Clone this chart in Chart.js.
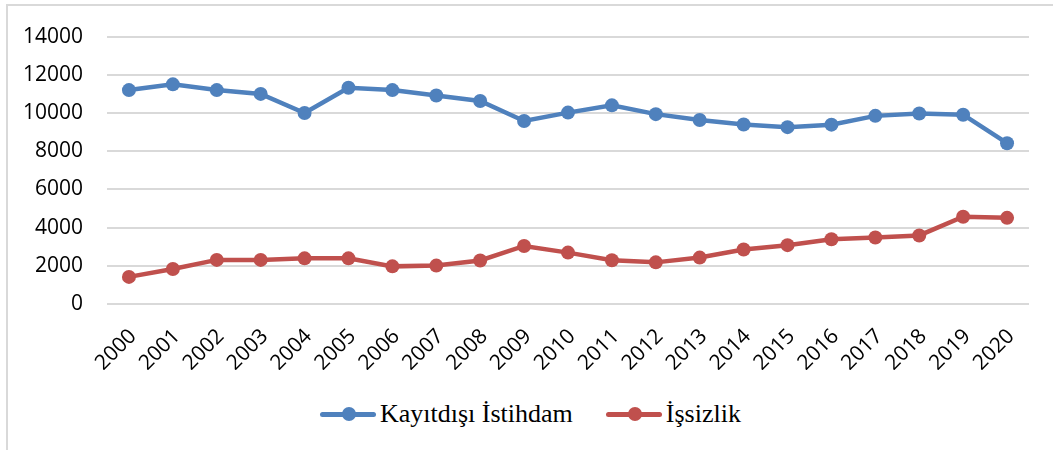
<!doctype html>
<html lang="tr">

<head>
    <meta charset="utf-8">
    <title>Kayıtdışı İstihdam ve İşsizlik</title>
    <script src="https://cdn.jsdelivr.net/npm/chart.js"></script>
    <style>
        body {
            margin: 0;
            background: #fff;
            width: 1053px;
            height: 450px;
            overflow: hidden;
            position: relative;
        }

        .frame {
            position: absolute;
            left: 6px;
            top: 4px;
            width: 1100px;
            height: 500px;
            border-left: 2px solid #d9d9d9;
            border-top: 2px solid #d9d9d9;
        }

        .chart-box {
            position: absolute;
            left: 0;
            top: 0;
            width: 1053px;
            height: 370px;
        }

        .legend {
            position: absolute;
            top: 399px;
            left: 320px;
            display: flex;
            align-items: center;
            font-family: "Liberation Serif", "Times New Roman", serif;
            font-size: 26px;
            color: #000;
            white-space: nowrap;
        }

        .legend .item {
            display: flex;
            align-items: center;
        }

        .legend .key {
            position: relative;
            width: 56px;
            height: 5px;
            border-radius: 3px;
            margin-right: 4px;
        }

        .legend .key::after {
            content: "";
            position: absolute;
            left: 22px;
            top: -4.5px;
            width: 14px;
            height: 14px;
            border-radius: 50%;
            background: inherit;
        }
    </style>
</head>

<body>
    <div class="frame"></div>
    <div class="chart-box">
        <canvas id="chart" width="1053" height="370"></canvas>
    </div>
    <div class="legend">
        <div class="item"><span class="key" style="background:#4f81bd"></span>Kayıtdışı İstihdam</div>
        <div class="item" style="margin-left:33px"><span class="key" style="background:#c0504d"></span>İşsizlik</div>
    </div>

    <script>
        const years = ['2000', '2001', '2002', '2003', '2004', '2005', '2006', '2007', '2008', '2009', '2010',
            '2011', '2012', '2013', '2014', '2015', '2016', '2017', '2018', '2019', '2020'];
        const kayitdisi = [11200, 11500, 11200, 11000, 10000, 11320, 11200, 10920, 10630, 9580, 10020,
            10400, 9940, 9630, 9400, 9260, 9390, 9850, 9970, 9910, 8420];
        const issizlik = [1420, 1830, 2310, 2310, 2390, 2390, 1970, 2010, 2280, 3040, 2690,
            2290, 2180, 2430, 2850, 3080, 3390, 3480, 3590, 4570, 4510];
        const yTicks = [0, 2000, 4000, 6000, 8000, 10000, 12000, 14000];

        const blue = '#4f81bd';
        const red = '#c0504d';
        const tickFont = { family: '"Open Sans", sans-serif', size: 21 };

        const series = (label, data, color) => ({
            label,
            data,
            borderColor: color,
            backgroundColor: color,
            borderWidth: 4.5,
            pointRadius: 7,
            pointBorderWidth: 0,
            pointBackgroundColor: color,
            tension: 0
        });

        new Chart(document.getElementById('chart'), {
            type: 'line',
            data: {
                labels: years,
                datasets: [
                    series('Kayıtdışı İstihdam', kayitdisi, blue),
                    series('İşsizlik', issizlik, red)
                ]
            },
            options: {
                responsive: false,
                animation: false,
                layout: { padding: { left: 0, right: 24, top: 34, bottom: 0 } },
                plugins: {
                    legend: { display: false },
                    tooltip: { enabled: false }
                },
                scales: {
                    x: {
                        offset: true,
                        grid: { display: false },
                        border: { display: false },
                        ticks: {
                            color: '#000',
                            font: tickFont,
                            maxRotation: 45,
                            minRotation: 45,
                            padding: 12,
                            labelOffset: 4,
                            autoSkip: false
                        },
                        afterFit: (scale) => { scale.height = 66; }
                    },
                    y: {
                        min: yTicks[0],
                        max: yTicks[yTicks.length - 1],
                        grid: { color: '#d9d9d9', lineWidth: 2, drawTicks: false },
                        border: { display: false },
                        afterBuildTicks: (scale) => { scale.ticks = yTicks.map(v => ({ value: v })); },
                        ticks: {
                            color: '#000',
                            font: tickFont,
                            padding: 24,
                            callback: (v) => String(v)
                        },
                        afterFit: (scale) => { scale.width = 107; }
                    }
                }
            }
        });
    </script>
</body>

</html>
